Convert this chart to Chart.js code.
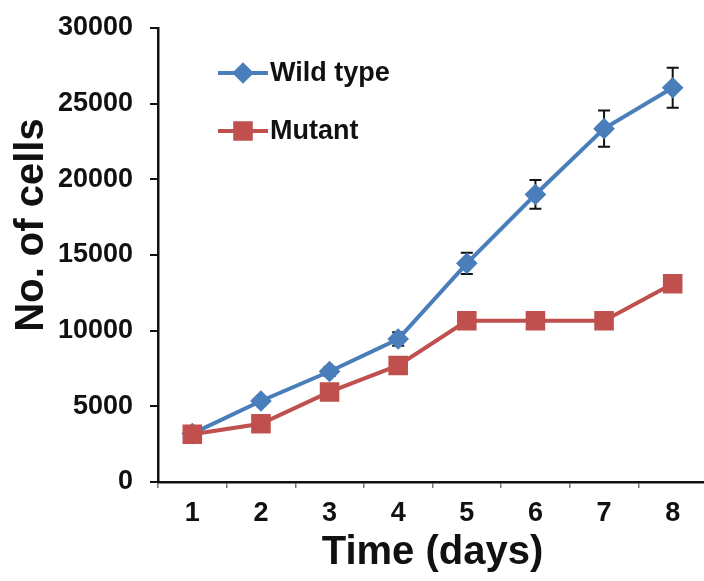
<!DOCTYPE html>
<html>
<head>
<meta charset="utf-8">
<script src="https://cdn.jsdelivr.net/npm/chart.js@4.4.1/dist/chart.umd.min.js"></script>
<style>
  html, body { margin: 0; padding: 0; background: #fff; overflow: hidden; }
  #wrap { width: 722px; height: 581px; position: relative; }
</style>
</head>
<body>
<div id="wrap"><canvas id="myChart"></canvas></div>
<script>
   // data
   const days = ['1', '2', '3', '4', '5', '6', '7', '8'];
   const wildType = [3200, 5350, 7300, 9450, 14450, 19000, 23350, 26050];
   const wildTypeErr = [100, 200, 300, 450, 700, 950, 1200, 1320];
   const mutant = [3150, 3850, 5950, 7700, 10650, 10650, 10650, 13100];
   const mutantErr = [100, 150, 200, 250, 300, 300, 300, 450];
   const yTickLabels = ['0', '5000', '10000', '15000', '20000', '25000', '30000'];
   const yTitle = 'No. of cells';

   const FONT = "'Liberation Sans', Arial, sans-serif";
   const BLUE = '#4a7ebb';
   const RED = '#c0504d';

   //    error bars, drawn under the markers
   const errorBars = {
       id: 'errorBars',
       beforeDatasetsDraw(chart) {
           const ctx = chart.ctx;
           const y = chart.scales.y;
           ctx.save();
           ctx.strokeStyle = '#111';
           ctx.lineWidth = 2;
           chart.data.datasets.forEach((ds, i) => {
               const meta = chart.getDatasetMeta(i);
               meta.data.forEach((pt, j) => {
                   const e = ds.errors[j];
                   const top = y.getPixelForValue(ds.data[j] + e);
                   const bot = y.getPixelForValue(ds.data[j] - e);
                   ctx.beginPath();
                   ctx.moveTo(pt.x, top);
                   ctx.lineTo(pt.x, bot);
                   ctx.moveTo(pt.x - 6, top);
                   ctx.lineTo(pt.x + 6, top);
                   ctx.moveTo(pt.x - 6, bot);
                   ctx.lineTo(pt.x + 6, bot);
                   ctx.stroke();
               });
           });
           ctx.restore();
       }
   };

   //    legend inside the plot (upper left) and the y title
   const extras = {
       id: 'extras',
       afterDraw(chart) {
           const ctx = chart.ctx;
           const rows = [73, 131];
           ctx.save();
           chart.data.datasets.forEach((ds, i) => {
               const yy = rows[i];
               ctx.strokeStyle = ds.borderColor;
               ctx.lineWidth = 4;
               ctx.beginPath();
               ctx.moveTo(218, yy);
               ctx.lineTo(268, yy);
               ctx.stroke();
               ctx.fillStyle = ds.pointBackgroundColor;
               ctx.strokeStyle = ds.pointBackgroundColor;
               Chart.helpers.drawPoint(ctx, {
                   pointStyle: ds.pointStyle,
                   radius: ds.pointRadius,
                   borderWidth: 1
               }, 243, yy);
               ctx.fillStyle = '#111';
               ctx.font = 'bold 27px ' + FONT;
               ctx.textAlign = 'left';
               ctx.textBaseline = 'middle';
               ctx.fillText(ds.label, 270, yy + 1);
           });

           ctx.translate(32, 225);
           ctx.rotate(-Math.PI / 2);
           ctx.fillStyle = '#111';
           ctx.font = 'bold 40px ' + FONT;
           ctx.textAlign = 'center';
           ctx.textBaseline = 'middle';
           ctx.fillText(yTitle, 0, 0);
           ctx.restore();
       }
   };

   const chartData = {
       labels: days,
       datasets: [{
           label: 'Wild type',
           data: wildType,
           errors: wildTypeErr,
           order: 1,
           borderColor: BLUE,
           borderWidth: 4,
           pointStyle: 'rectRot',
           pointRadius: 8,
           pointBackgroundColor: BLUE,
           pointBorderColor: BLUE,
           tension: 0
       }, {
           label: 'Mutant',
           data: mutant,
           errors: mutantErr,
           order: 0,
           borderColor: RED,
           borderWidth: 4,
           pointStyle: 'rect',
           pointRadius: 11,
           pointBackgroundColor: RED,
           pointBorderColor: RED,
           tension: 0
       }]
   };

   const config = {
       type: 'line',
       data: chartData,
       plugins: [errorBars, extras],
       options: {
           responsive: true,
           maintainAspectRatio: false,
           animation: false,
           layout: {
               padding: { top: 28, right: 0, left: 0, bottom: 0 }
           },
           plugins: {
               legend: { display: false },
               tooltip: { enabled: false }
           },
           scales: {
               x: {
                   offset: true,
                   afterFit: scale => { scale.height = 99; },
                   grid: {
                       offset: true,
                       drawOnChartArea: false,
                       drawTicks: true,
                       tickLength: 6,
                       color: '#777',
                       lineWidth: 1.5
                   },
                   border: { color: '#111', width: 2.5 },
                   ticks: {
                       color: '#111',
                       padding: 9,
                       maxRotation: 0,
                       font: { family: FONT, size: 27, weight: 'bold' }
                   },
                   title: {
                       display: true,
                       text: 'Time (days)',
                       color: '#111',
                       padding: { top: 0, bottom: 4 },
                       font: { family: FONT, size: 40, weight: 'bold' }
                   }
               },
               y: {
                   min: 0,
                   max: 30000,
                   afterFit: scale => {
                       scale.width = 158;
                       scale.paddingTop = 0;
                   },
                   grid: {
                       drawOnChartArea: false,
                       drawTicks: true,
                       tickLength: 8,
                       color: '#111',
                       lineWidth: 2
                   },
                   border: { color: '#111', width: 2.5 },
                   ticks: {
                       stepSize: 5000,
                       color: '#111',
                       padding: 17,
                       font: { family: FONT, size: 27, weight: 'bold' },
                       callback: (v, i) => yTickLabels[i]
                   }
               }
           }
       }
   };

   new Chart(
       document.getElementById('myChart'),
       config
   );
</script>
</body>
</html>
